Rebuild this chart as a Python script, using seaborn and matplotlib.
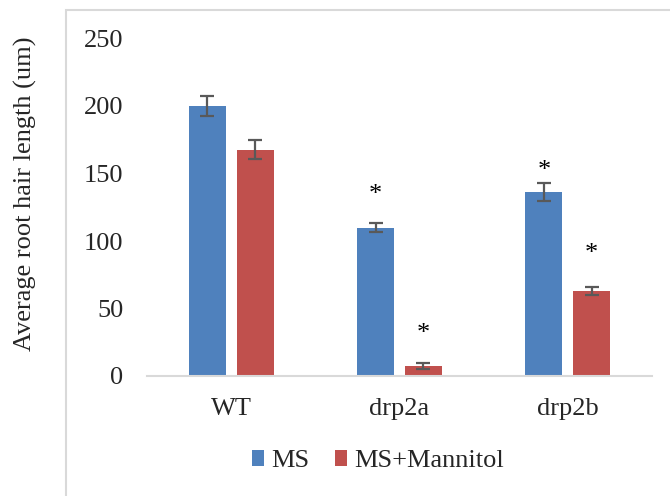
import matplotlib
matplotlib.use("Agg")
import matplotlib.pyplot as plt
import matplotlib.patches as mpatches
import pandas as pd
import seaborn as sns

# Average root hair length per genotype and growth medium
genotypes = ["WT", "drp2a", "drp2b"]
conditions = ["MS", "MS+Mannitol"]
ms_mean = [200.0, 110.0, 136.3]
ms_err = [7.7, 3.3, 6.6]
mannitol_mean = [167.6, 7.4, 63.0]
mannitol_err = [6.9, 2.4, 3.1]
# significance markers: (genotype, condition, height of the star)
star_genotype = ["drp2a", "drp2a", "drp2b", "drp2b"]
star_condition = ["MS", "MS+Mannitol", "MS", "MS+Mannitol"]
star_y = [139, 36, 157, 95.5]
y_ticks = [0, 50, 100, 150, 200, 250]

colors = ["#4F81BD", "#C0504D"]
err_color = "#595959"
frame_color = "#D9D9D9"

df = pd.DataFrame({
    "genotype": genotypes * 2,
    "condition": [conditions[0]] * 3 + [conditions[1]] * 3,
    "length": ms_mean + mannitol_mean,
    "err": ms_err + mannitol_err,
})

sns.set_theme(style="white")
plt.rcParams["font.family"] = ["Liberation Serif", "DejaVu Serif"]
fs = 19

W, H = 670, 496
fig = plt.figure(figsize=(W / 100, H / 100), dpi=100)
ax = fig.add_axes([147 / W, 1 - 376 / H, (652 - 147) / W, (376 - 38.5) / H])

sns.barplot(data=df, x="genotype", y="length", hue="condition",
            order=genotypes, hue_order=conditions, palette=colors,
            width=0.57, gap=0.23, errorbar=None, saturation=1,
            legend=False, ax=ax, linewidth=0)

# error bars at the centres of the drawn bars
centers = {}
for p, (_, row) in zip(ax.patches, df.iterrows()):
    cx = p.get_x() + p.get_width() / 2
    centers[(row["genotype"], row["condition"])] = cx
    ax.errorbar(cx, row["length"], yerr=row["err"], fmt="none",
                ecolor=err_color, elinewidth=1.6, capsize=4.8,
                capthick=1.6, zorder=5)

for g, c, y in zip(star_genotype, star_condition, star_y):
    ax.annotate("*", (centers[(g, c)], y), xytext=(0, -5),
                textcoords="offset points", ha="center", va="center",
                fontsize=fs, color="black")

ax.set_xlim(-0.5, 2.5)
ax.set_ylim(0, 250)
ax.set_yticks(y_ticks)
ax.set_yticklabels([str(t) for t in y_ticks], fontsize=fs)
ax.set_xticks(range(len(genotypes)))
ax.set_xticklabels(genotypes, fontsize=fs)
ax.tick_params(axis="y", length=0, pad=17)
ax.tick_params(axis="x", length=0, pad=16)
ax.set_xlabel("")
ax.set_ylabel("")
for s in ["top", "right", "left"]:
    ax.spines[s].set_visible(False)
ax.spines["bottom"].set_color(frame_color)
ax.spines["bottom"].set_linewidth(1.5)

fig.text(25 / W, 1 - 193.5 / H, "Average root hair length (um)",
         rotation=90, ha="center", va="center", fontsize=fs)

# chart border (right and bottom edges fall outside the canvas)
border = mpatches.Rectangle((66 / W, -0.1), 1.2, 1 - 10 / H + 0.1,
                            transform=fig.transFigure, fill=False,
                            edgecolor=frame_color, linewidth=1.5)
fig.patches.append(border)

handles = [mpatches.Patch(facecolor=c, edgecolor="none") for c in colors]
fig.legend(handles, conditions, loc="center", ncol=2,
           bbox_to_anchor=(378 / W, 1 - 461 / H), frameon=False,
           fontsize=fs, handlelength=0.45, handleheight=0.57,
           handletextpad=0.3, columnspacing=0.95, borderaxespad=0)

fig.savefig("out.png", dpi=100)
